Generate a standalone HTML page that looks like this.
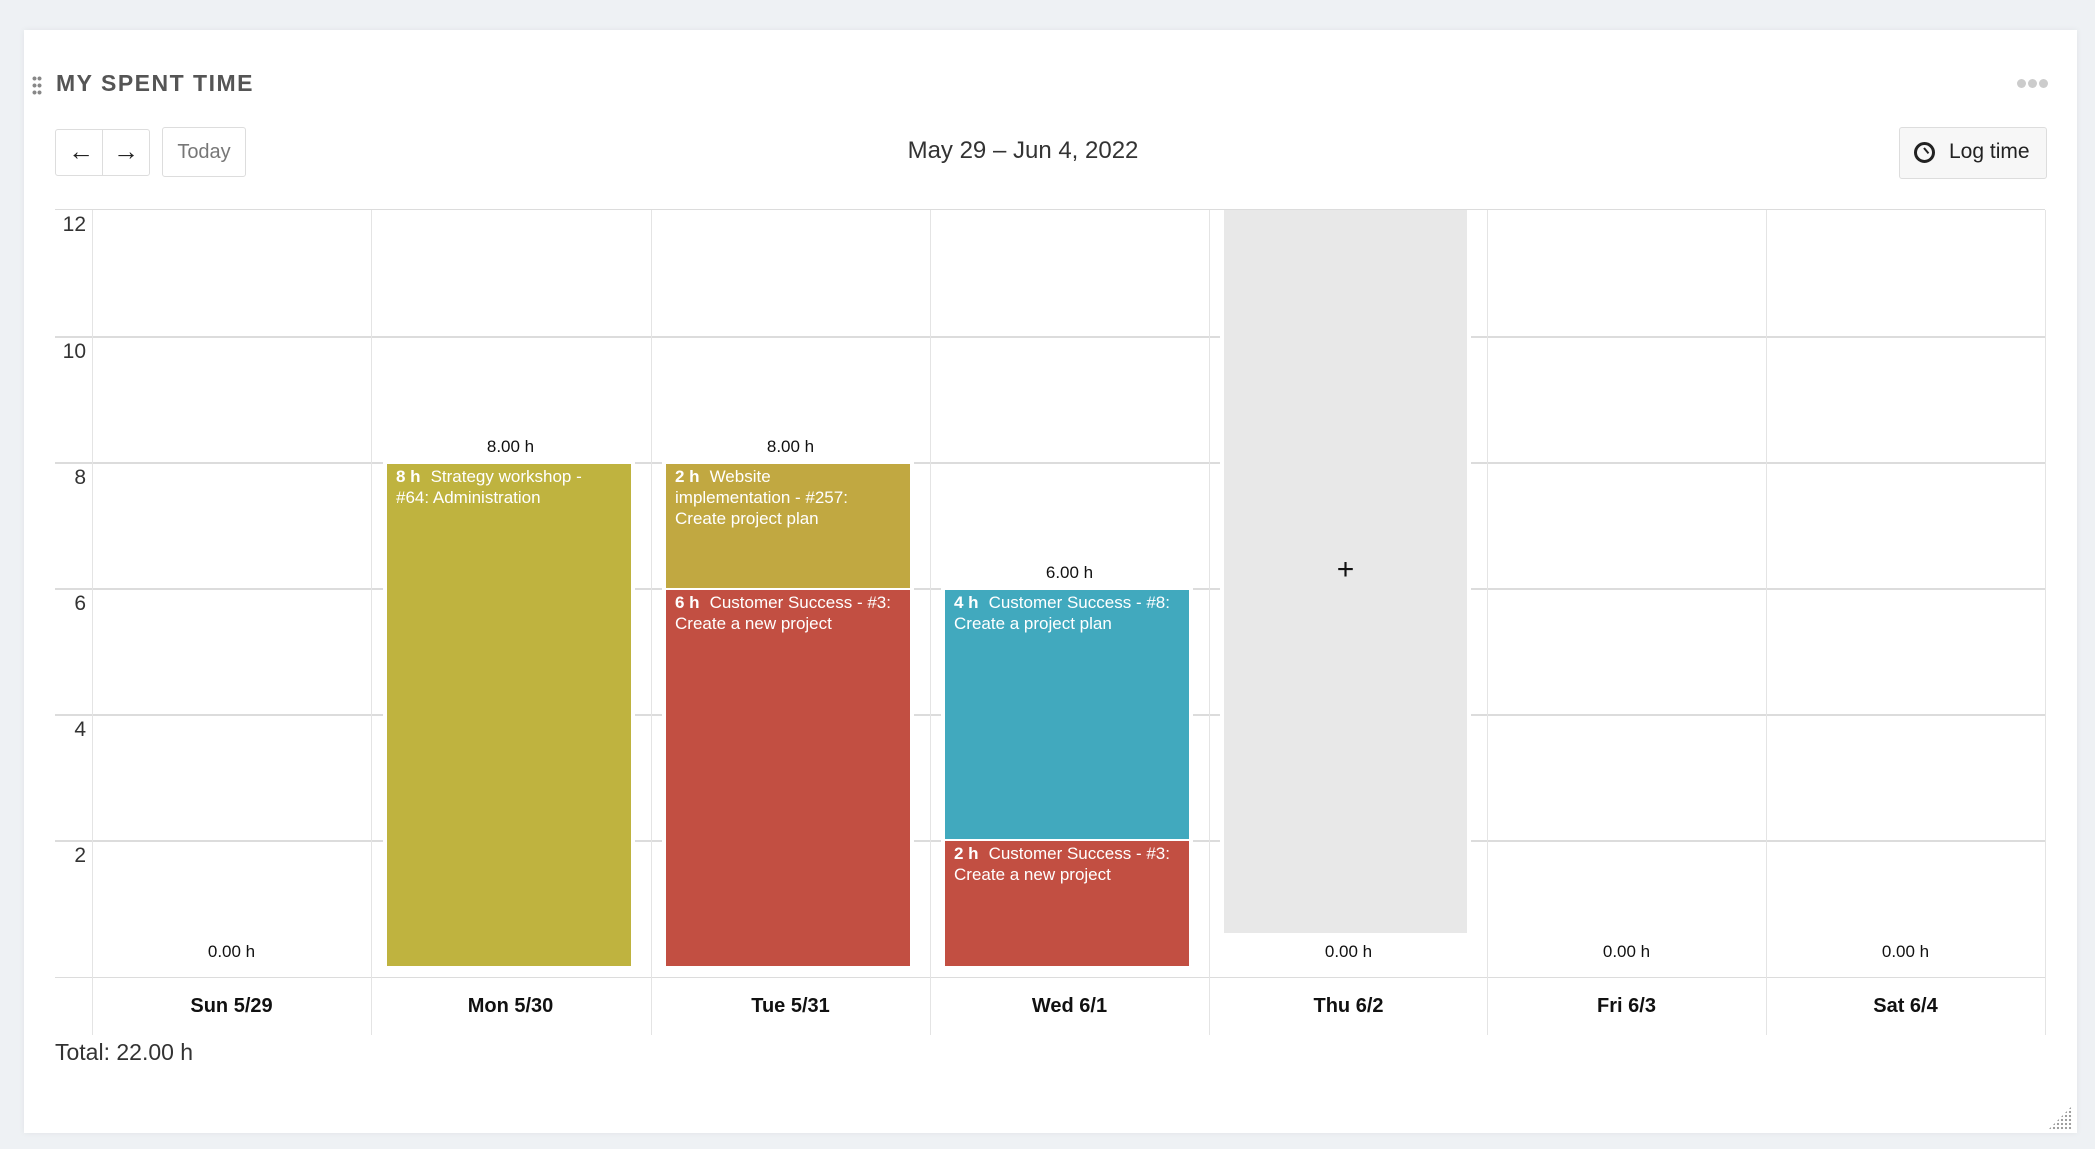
<!DOCTYPE html>
<html><head><meta charset="utf-8"><style>
*{margin:0;padding:0;box-sizing:border-box}
body{width:2095px;height:1149px;background:#eef1f4;font-family:"Liberation Sans",sans-serif;position:relative;overflow:hidden}
.card{position:absolute;left:24px;top:30px;width:2053px;height:1103px;background:#fff;box-shadow:0 0 6px rgba(0,0,0,.06)}
.a{position:absolute}
.hl{position:absolute;left:55px;width:1990px;height:2px;background:#dcdcdc}
.vl{position:absolute;top:210px;width:1px;height:825px;background:#e4e4e4}
.yl{position:absolute;left:55px;width:31px;text-align:right;font-size:21px;color:#333}
.bar{position:absolute;color:#fff;font-size:17px;line-height:21px;padding:2px 9px;white-space:nowrap;overflow:hidden}
.bar b{margin-right:10px}
.tot{position:absolute;width:279px;text-align:center;font-size:17px;color:#111}
.day{position:absolute;top:993px;width:279px;text-align:center;font-size:20px;font-weight:bold;color:#111}
.btn{position:absolute;border:1px solid #ddd;border-radius:3px;background:#fff}
.dot{position:absolute;top:79px;width:9px;height:9px;border-radius:50%;background:#ccc}
</style></head><body>
<div class="card"></div>
<div class="a" style="left:32px;top:75px;width:10px;height:22px;background:radial-gradient(circle,#888 1.8px,transparent 2.2px) 0 0/5px 7px"></div>
<div class="a" style="left:56px;top:70px;font-size:23px;font-weight:bold;color:#555;letter-spacing:1.5px">MY SPENT TIME</div>
<div class="dot" style="left:2017px"></div>
<div class="dot" style="left:2028px"></div>
<div class="dot" style="left:2039px"></div>

<div class="btn" style="left:55px;top:129px;width:95px;height:47px"></div>
<div class="a" style="left:102px;top:129px;width:1px;height:47px;background:#ddd"></div>
<div class="a" style="left:68px;top:136px;font-size:26px;color:#222">&#8592;</div>
<div class="a" style="left:113px;top:136px;font-size:26px;color:#222">&#8594;</div>
<div class="btn" style="left:162px;top:127px;width:84px;height:50px;font-size:20px;color:#777;text-align:center;line-height:48px">Today</div>
<div class="a" style="left:823px;top:137px;width:400px;text-align:center;font-size:24px;color:#333">May 29 – Jun 4, 2022</div>
<div class="btn" style="left:1899px;top:127px;width:148px;height:52px;background:#f7f7f7"></div>
<div class="a" style="left:1914px;top:142px;width:21px;height:21px;border:3px solid #222;border-radius:50%"></div>
<div class="a" style="left:1923px;top:148px;width:2px;height:7px;background:#222;transform:rotate(-40deg);transform-origin:top"></div>
<div class="a" style="left:1949px;top:140px;font-size:21px;color:#222">Log time</div>

<div class="hl" style="top:209px;height:1px"></div>
<div class="hl" style="top:336px"></div>
<div class="hl" style="top:462px"></div>
<div class="hl" style="top:588px"></div>
<div class="hl" style="top:714px"></div>
<div class="hl" style="top:840px"></div>
<div class="hl" style="top:977px;height:1px"></div>
<div class="yl" style="top:213px">12</div>
<div class="yl" style="top:340px">10</div>
<div class="yl" style="top:466px">8</div>
<div class="yl" style="top:592px">6</div>
<div class="yl" style="top:718px">4</div>
<div class="yl" style="top:844px">2</div>

<div class="vl" style="left:92px"></div>
<div class="vl" style="left:371px"></div>
<div class="vl" style="left:651px"></div>
<div class="vl" style="left:930px"></div>
<div class="vl" style="left:1209px"></div>
<div class="vl" style="left:1487px"></div>
<div class="vl" style="left:1766px"></div>
<div class="vl" style="left:2045px"></div>

<div class="a" style="left:383px;top:462px;width:252px;height:506px;background:#fff"></div>
<div class="a" style="left:662px;top:462px;width:252px;height:506px;background:#fff"></div>
<div class="a" style="left:941px;top:588px;width:252px;height:380px;background:#fff"></div>
<div class="a" style="left:1220px;top:210px;width:251px;height:725px;background:#fff"></div>

<div class="bar" style="left:387px;top:464px;width:244px;height:502px;background:#bfb33f"><b>8 h</b>Strategy workshop -<br>#64: Administration</div>
<div class="bar" style="left:666px;top:464px;width:244px;height:124px;background:#c1a841"><b>2 h</b>Website<br>implementation - #257:<br>Create project plan</div>
<div class="bar" style="left:666px;top:590px;width:244px;height:376px;background:#c24f42"><b>6 h</b>Customer Success - #3:<br>Create a new project</div>
<div class="bar" style="left:945px;top:590px;width:244px;height:249px;background:#41a9be"><b>4 h</b>Customer Success - #8:<br>Create a project plan</div>
<div class="bar" style="left:945px;top:841px;width:244px;height:125px;background:#c24f42"><b>2 h</b>Customer Success - #3:<br>Create a new project</div>
<div class="a" style="left:1224px;top:210px;width:243px;height:723px;background:#e8e8e8"></div>
<div class="a" style="left:1224px;top:553px;width:243px;text-align:center;font-size:30px;color:#111">+</div>

<div class="tot" style="left:92px;top:942px">0.00 h</div>
<div class="tot" style="left:371px;top:437px">8.00 h</div>
<div class="tot" style="left:651px;top:437px">8.00 h</div>
<div class="tot" style="left:930px;top:563px">6.00 h</div>
<div class="tot" style="left:1209px;top:942px">0.00 h</div>
<div class="tot" style="left:1487px;top:942px">0.00 h</div>
<div class="tot" style="left:1766px;top:942px">0.00 h</div>

<div class="day" style="left:92px;top:995px">Sun 5/29</div>
<div class="day" style="left:371px;top:995px">Mon 5/30</div>
<div class="day" style="left:651px;top:995px">Tue 5/31</div>
<div class="day" style="left:930px;top:995px">Wed 6/1</div>
<div class="day" style="left:1209px;top:995px">Thu 6/2</div>
<div class="day" style="left:1487px;top:995px">Fri 6/3</div>
<div class="day" style="left:1766px;top:995px">Sat 6/4</div>

<div class="a" style="left:55px;top:1039px;font-size:23px;color:#333">Total: 22.00 h</div>
<div class="a" style="left:2048px;top:1106px;width:24px;height:24px;background:radial-gradient(circle,#999 1px,transparent 1.3px) 0 0/4px 4px;clip-path:polygon(100% 0,100% 100%,0 100%)"></div>
</body></html>
